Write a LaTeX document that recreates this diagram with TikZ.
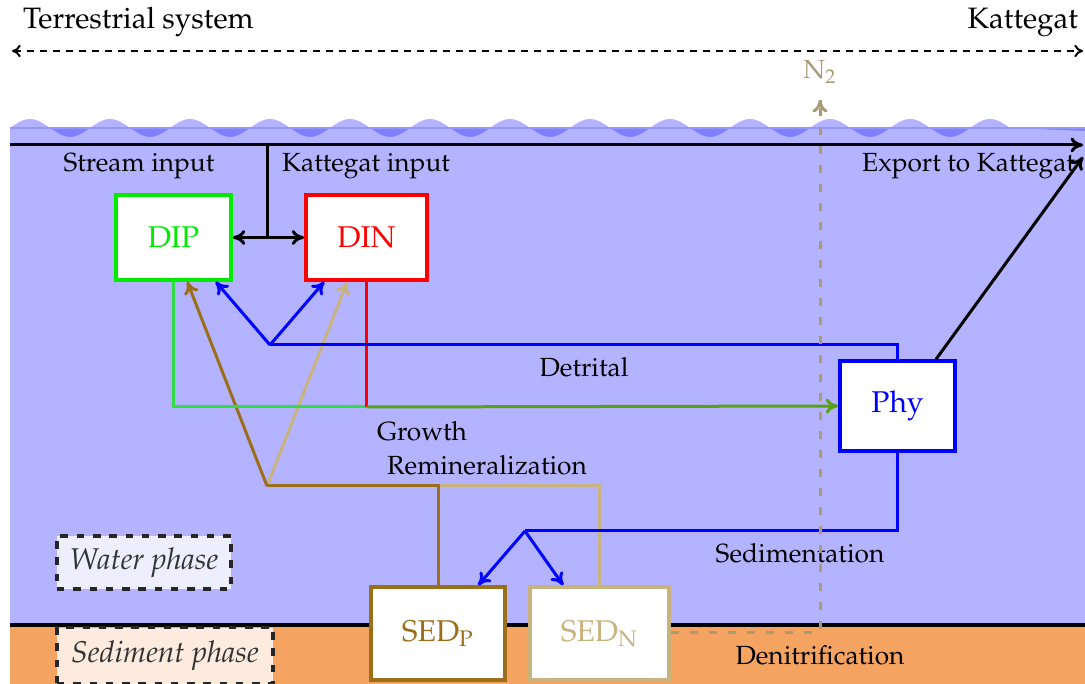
\documentclass[tikz,border=0pt]{standalone}
\usepackage[T1]{fontenc}
\usepackage{mathpazo}
\usetikzlibrary{calc,arrows.meta}
\definecolor{water}{RGB}{179,179,255}
\definecolor{wavedark}{RGB}{128,128,255}
\definecolor{surf}{RGB}{150,150,255}
\definecolor{sedim}{RGB}{244,164,96}
\definecolor{dipg}{RGB}{0,235,0}
\definecolor{dipline}{RGB}{50,220,70}
\definecolor{olive}{RGB}{90,160,20}
\definecolor{brownp}{RGB}{155,110,25}
\definecolor{tann}{RGB}{200,178,125}
\definecolor{ntwo}{RGB}{168,155,118}
\definecolor{wpfill}{RGB}{238,238,255}
\definecolor{spfill}{RGB}{253,235,223}
\begin{document}
\begin{tikzpicture}[x=0.4pt,y=-0.4pt,
  font=\fontsize{10.5}{12.6}\selectfont,
  >={To[length=5pt,width=6pt]},
  pool/.style={draw,fill=white,line width=1.4pt,inner sep=0pt,font=\fontsize{12}{14.4}\selectfont},
  flow/.style={line width=1.2pt},
  phase/.style={draw=black!85,dashed,line width=1.3pt,dash pattern=on 3pt off 3.5pt,text=black!80,font=\fontsize{12}{14.4}\selectfont\itshape,inner sep=0pt},
  lbl/.style={inner sep=1pt},
  biglbl/.style={inner sep=1pt,font=\fontsize{11.8}{14}\selectfont}]
\useasboundingbox (0,0) rectangle (1085,684);
% water and sediment
\fill[wavedark] (10,128) rectangle (1085,140);
\fill[water] plot[domain=10:1010,samples=300] (\x,{128-9*cos(4.5*(\x-30))}) -- (1085,131) -- (1085,625) -- (10,625) -- cycle;
\fill[water] (1010,131) rectangle (1085,140);
\draw[surf,line width=0.6pt] (10,128) -- (1085,128);
\fill[sedim] (10,625) rectangle (1085,684);
\draw[line width=1.4pt] (10,625) -- (1085,625);
% top labels
\node[biglbl,anchor=west] (terr) at (20,22) {Terrestrial system};
\node[biglbl,anchor=east] (katt) at (1081,22) {Kattegat};
\coordinate (dl) at (12,51);
\coordinate (dr) at (1083,51);
\draw[<->,line width=0.8pt,dash pattern=on 2.8pt off 2.4pt,>={To[length=3.5pt,width=5pt]}] (dl) -- (dr);
% surface line
\coordinate (sl) at (10,145);
\coordinate (sr) at (1083,145);
\draw[->,flow] (sl) -- (sr);
% nodes
\node[pool,draw=dipg,text=dipg,minimum width=46pt,minimum height=34pt] (DIP) at (173.5,237.5) {DIP};
\node[pool,draw=red,text=red,minimum width=48.4pt,minimum height=34pt] (DIN) at (366.5,237.5) {DIN};
\node[pool,draw=blue,text=blue,minimum width=46pt,minimum height=36pt] (Phy) at (897.5,406) {Phy};
\node[pool,draw=brownp,text=brownp,minimum width=53.6pt,minimum height=37.2pt] (SEDP) at (438,633.5) {SED$_{\mathrm{P}}$};
\node[pool,draw=tann,text=tann,minimum width=55.6pt,minimum height=37.2pt] (SEDN) at (599.5,633.5) {SED$_{\mathrm{N}}$};
\node[phase,fill=wpfill,minimum width=69.6pt,minimum height=21.2pt] (wp) at (144,562.5) {Water phase};
\node[phase,fill=spfill,minimum width=86.4pt,minimum height=22.4pt] (sp) at (165,655.5) {Sediment phase};
% labels
\node[lbl] (stream) at (139,166) {Stream input};
\node[lbl] (kin) at (366,166) {Kattegat input};
\node[lbl,anchor=east] (exp) at (1078,166) {Export to Kattegat};
\node[lbl,text=ntwo] (n2) at (820,72) {N$_2$};
\node[lbl] (detr) at (584,367) {Detrital};
\node[lbl] (grow) at (422,431) {Growth};
\node[lbl] (remin) at (487,465) {Remineralization};
\node[lbl] (sedl) at (800,553) {Sedimentation};
\node[lbl] (denit) at (820,655) {Denitrification};
% inputs
\coordinate (inTop) at (267,145);
\coordinate (inJ) at (267,237.5);
\draw[flow] (inTop) -- (inJ);
\draw[<->,flow] (DIP.east) -- (DIN.west);
% remineralization
\coordinate (rj) at (267,486);
\draw[flow,tann] (SEDN.north) |- (rj);
\draw[->,flow,tann] (rj) -- ($(DIN.south west)+(43,0)$);
\draw[flow,brownp] (SEDP.north) |- (rj);
\draw[->,flow,brownp] (rj) -- ($(DIP.south west)+(73,0)$);
% growth
\coordinate (gj) at (366.5,407);
\draw[flow,dipline] (DIP.south) |- (gj);
\draw[flow,red] (DIN.south) -- (gj);
\draw[->,flow,olive] (gj) -- (Phy.west);
% detrital
\coordinate (dj) at (270,345);
\draw[flow,blue] (Phy.north) |- (dj);
\draw[->,flow,blue] (dj) -- ($(DIP.south east)+(-17,0)$);
\draw[->,flow,blue] (dj) -- ($(DIN.south west)+(20,0)$);
% sedimentation
\coordinate (sj) at (525,531);
\draw[flow,blue] (Phy.south) |- (sj);
\draw[->,flow,blue] (sj) -- ($(SEDP.north west)+(109,0)$);
\draw[->,flow,blue] (sj) -- ($(SEDN.north west)+(35,0)$);
% export
\coordinate (ex) at (1083,157);
\draw[->,flow] ($(Phy.north)+(38.5,0)$) -- (ex);
% denitrification
\coordinate (nj) at (820,632);
\coordinate (ntop) at (820,100);
\draw[ntwo,line width=1.2pt,dash pattern=on 3.2pt off 4.4pt] (SEDN.east |- nj) -- (nj) -- (ntop);
\draw[->,ntwo,line width=1.2pt] ($(ntop)+(0,0.1)$) -- (ntop);
\end{tikzpicture}
\end{document}
